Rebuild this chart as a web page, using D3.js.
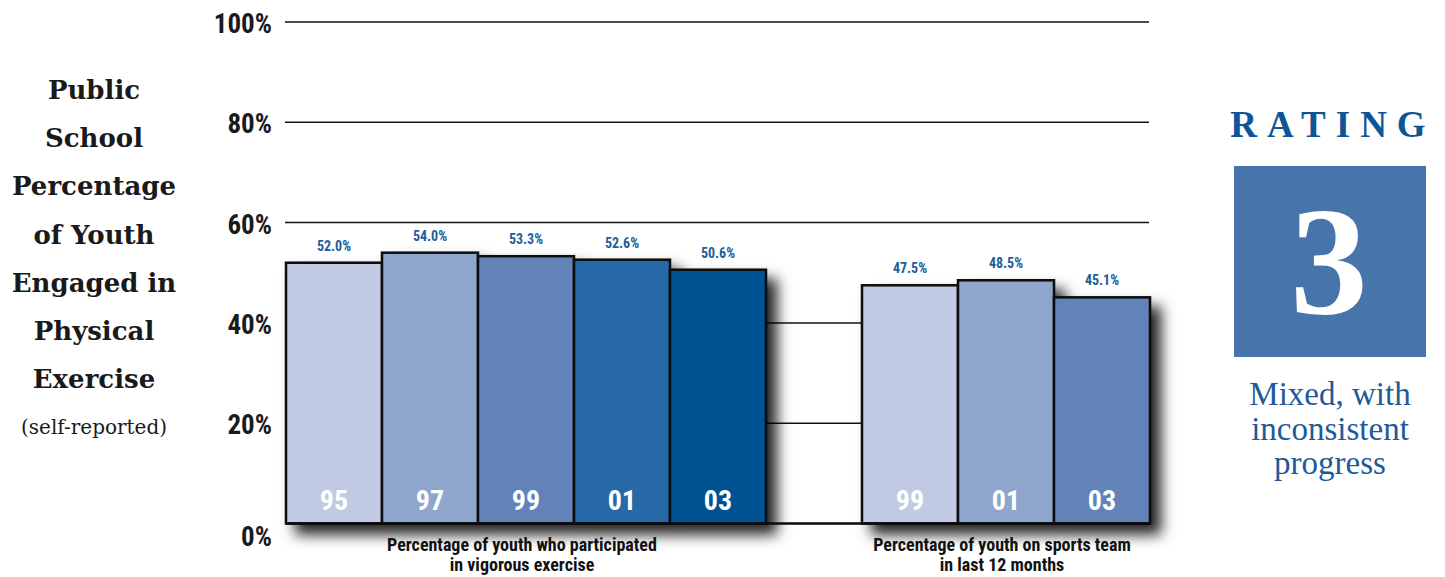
<!DOCTYPE html>
<html>
<head>
<meta charset="utf-8">
<script src="https://cdn.jsdelivr.net/npm/d3@7"></script>
<style>
  html, body { margin: 0; padding: 0; background: #fff; }
  svg { display: block; }
  .cond { font-family: "Liberation Sans Narrow", "Arial Narrow", "Roboto Condensed", sans-serif; font-weight: 700; }
  .serif { font-family: "Liberation Serif", "DejaVu Serif", serif; }
  .heavy { font-family: "DejaVu Serif", "Liberation Serif", serif; }
</style>
</head>
<body>
<svg id="chart" width="1445" height="577"></svg>
<script>
// ---- data ----
const exerciseYears = ["95", "97", "99", "01", "03"];
const exerciseValues = [52.0, 54.0, 53.3, 52.6, 50.6];
const teamYears = ["99", "01", "03"];
const teamValues = [47.5, 48.5, 45.1];
const groupLabels = [
  ["Percentage of youth who participated", "in vigorous exercise"],
  ["Percentage of youth on sports team", "in last 12 months"]
];
const yTicks = [0, 20, 40, 60, 80, 100];
const titleLines = ["Public", "School", "Percentage", "of Youth", "Engaged in", "Physical", "Exercise"];
const ratingValue = "3";
const ratingLines = ["Mixed, with", "inconsistent", "progress"];

const BAR_COLORS = ["#c0cae3", "#8ea5cc", "#6283b8", "#2569a6", "#015293"];
const LABEL_BLUE = "#1d5e9e";

const svg = d3.select("#chart");

// one slot per bar plus an empty slot between the two groups
const slots = [
  ...exerciseYears.map((y, i) => ({ key: "ex" + y, year: y, value: exerciseValues[i], color: BAR_COLORS[i], group: 0 })),
  { key: "gap" },
  ...teamYears.map((y, i) => ({ key: "tm" + y, year: y, value: teamValues[i], color: BAR_COLORS[i], group: 1 }))
];
const bars = slots.filter((d) => d.key !== "gap");

const x = d3.scaleBand().domain(slots.map((d) => d.key)).range([286, 1150]).padding(0);
const y = d3.scaleLinear().domain([0, 100]).range([523.5, 22]);

const defs = svg.append("defs");
const shadow = defs.append("filter").attr("id", "shadow")
  .attr("x", "-10%").attr("y", "-10%").attr("width", "130%").attr("height", "130%");
shadow.append("feDropShadow")
  .attr("dx", 10).attr("dy", 10)
  .attr("stdDeviation", 7)
  .attr("flood-color", "#000")
  .attr("flood-opacity", 0.85);

// gridlines
svg.append("g")
  .selectAll("line")
  .data(yTicks.filter((t) => t > 0))
  .join("line")
  .attr("x1", 285).attr("x2", 1149)
  .attr("y1", (d) => y(d)).attr("y2", (d) => y(d))
  .attr("stroke", "#111").attr("stroke-width", 1.5);

svg.append("g")
  .selectAll("text")
  .data(yTicks)
  .join("text")
  .attr("class", "cond")
  .attr("x", 272)
  .attr("y", (d) => y(d) + (d === 0 ? 22 : 11))
  .attr("text-anchor", "end")
  .attr("font-size", 27)
  .attr("fill", "#1a1a1a")
  .text((d) => d + "%");

// bars, each group drawn in one shadowed layer
const groupKeys = [0, 1];
groupKeys.forEach((g) => {
  const gb = bars.filter((d) => d.group === g);
  const layer = svg.append("g").attr("filter", "url(#shadow)");
  layer.selectAll("rect")
    .data(gb)
    .join("rect")
    .attr("x", (d) => x(d.key))
    .attr("y", (d) => y(d.value))
    .attr("width", x.bandwidth())
    .attr("height", (d) => y(0) - y(d.value))
    .attr("fill", (d) => d.color)
    .attr("stroke", "#0a0a0a")
    .attr("stroke-width", 2.5);
});

// baseline
svg.append("line")
  .attr("x1", 286).attr("x2", 1150)
  .attr("y1", y(0)).attr("y2", y(0))
  .attr("stroke", "#0a0a0a").attr("stroke-width", 2.5);

// value labels
svg.append("g")
  .selectAll("text")
  .data(bars)
  .join("text")
  .attr("class", "cond")
  .attr("x", (d) => x(d.key) + x.bandwidth() / 2)
  .attr("y", (d) => y(d.value) - 12)
  .attr("text-anchor", "middle")
  .attr("font-size", 14)
  .attr("fill", LABEL_BLUE)
  .text((d) => d.value.toFixed(1) + "%");

// year labels inside bars
svg.append("g")
  .selectAll("text")
  .data(bars)
  .join("text")
  .attr("class", "cond")
  .attr("x", (d) => x(d.key) + x.bandwidth() / 2)
  .attr("y", y(0) - 14)
  .attr("text-anchor", "middle")
  .attr("font-size", 28)
  .attr("fill", "#fff")
  .text((d) => d.year);

// group captions
groupKeys.forEach((g) => {
  const gb = bars.filter((d) => d.group === g);
  const cx = (x(gb[0].key) + x(gb[gb.length - 1].key) + x.bandwidth()) / 2 - 4;
  svg.append("text")
    .attr("class", "cond")
    .attr("x", cx)
    .attr("y", 551)
    .attr("text-anchor", "middle")
    .attr("font-size", 18)
    .attr("fill", "#111")
    .selectAll("tspan")
    .data(groupLabels[g])
    .join("tspan")
    .attr("x", cx)
    .attr("dy", (d, i) => (i === 0 ? 0 : 20))
    .text((d) => d);
});

// left title
svg.append("g")
  .selectAll("text")
  .data(titleLines)
  .join("text")
  .attr("class", "heavy")
  .attr("x", 94)
  .attr("y", (d, i) => 99 + i * 48.2)
  .attr("text-anchor", "middle")
  .attr("font-size", 26)
  .attr("font-weight", 700)
  .attr("fill", "#1a1a1a")
  .text((d) => d);

svg.append("text")
  .attr("class", "heavy")
  .attr("x", 94)
  .attr("y", 434)
  .attr("text-anchor", "middle")
  .attr("font-size", 20)
  .attr("fill", "#1a1a1a")
  .text("(self-reported)");

// rating panel
svg.append("text")
  .attr("class", "serif")
  .attr("x", 1333)
  .attr("y", 137)
  .attr("text-anchor", "middle")
  .attr("font-size", 37)
  .attr("font-weight", 700)
  .attr("letter-spacing", 10)
  .attr("fill", "#0d5596")
  .text("RATING");

svg.append("rect")
  .attr("x", 1234).attr("y", 166)
  .attr("width", 192).attr("height", 191)
  .attr("fill", "#4774ab");

svg.append("text")
  .attr("class", "serif")
  .attr("x", 1329)
  .attr("y", 313)
  .attr("text-anchor", "middle")
  .attr("font-size", 155)
  .attr("font-weight", 700)
  .attr("fill", "#fff")
  .text(ratingValue);

svg.append("g")
  .selectAll("text")
  .data(ratingLines)
  .join("text")
  .attr("class", "serif")
  .attr("x", 1330)
  .attr("y", (d, i) => 405 + i * 34.5)
  .attr("text-anchor", "middle")
  .attr("font-size", 33)
  .attr("fill", "#1e5a9a")
  .text((d) => d);
</script>
</body>
</html>
